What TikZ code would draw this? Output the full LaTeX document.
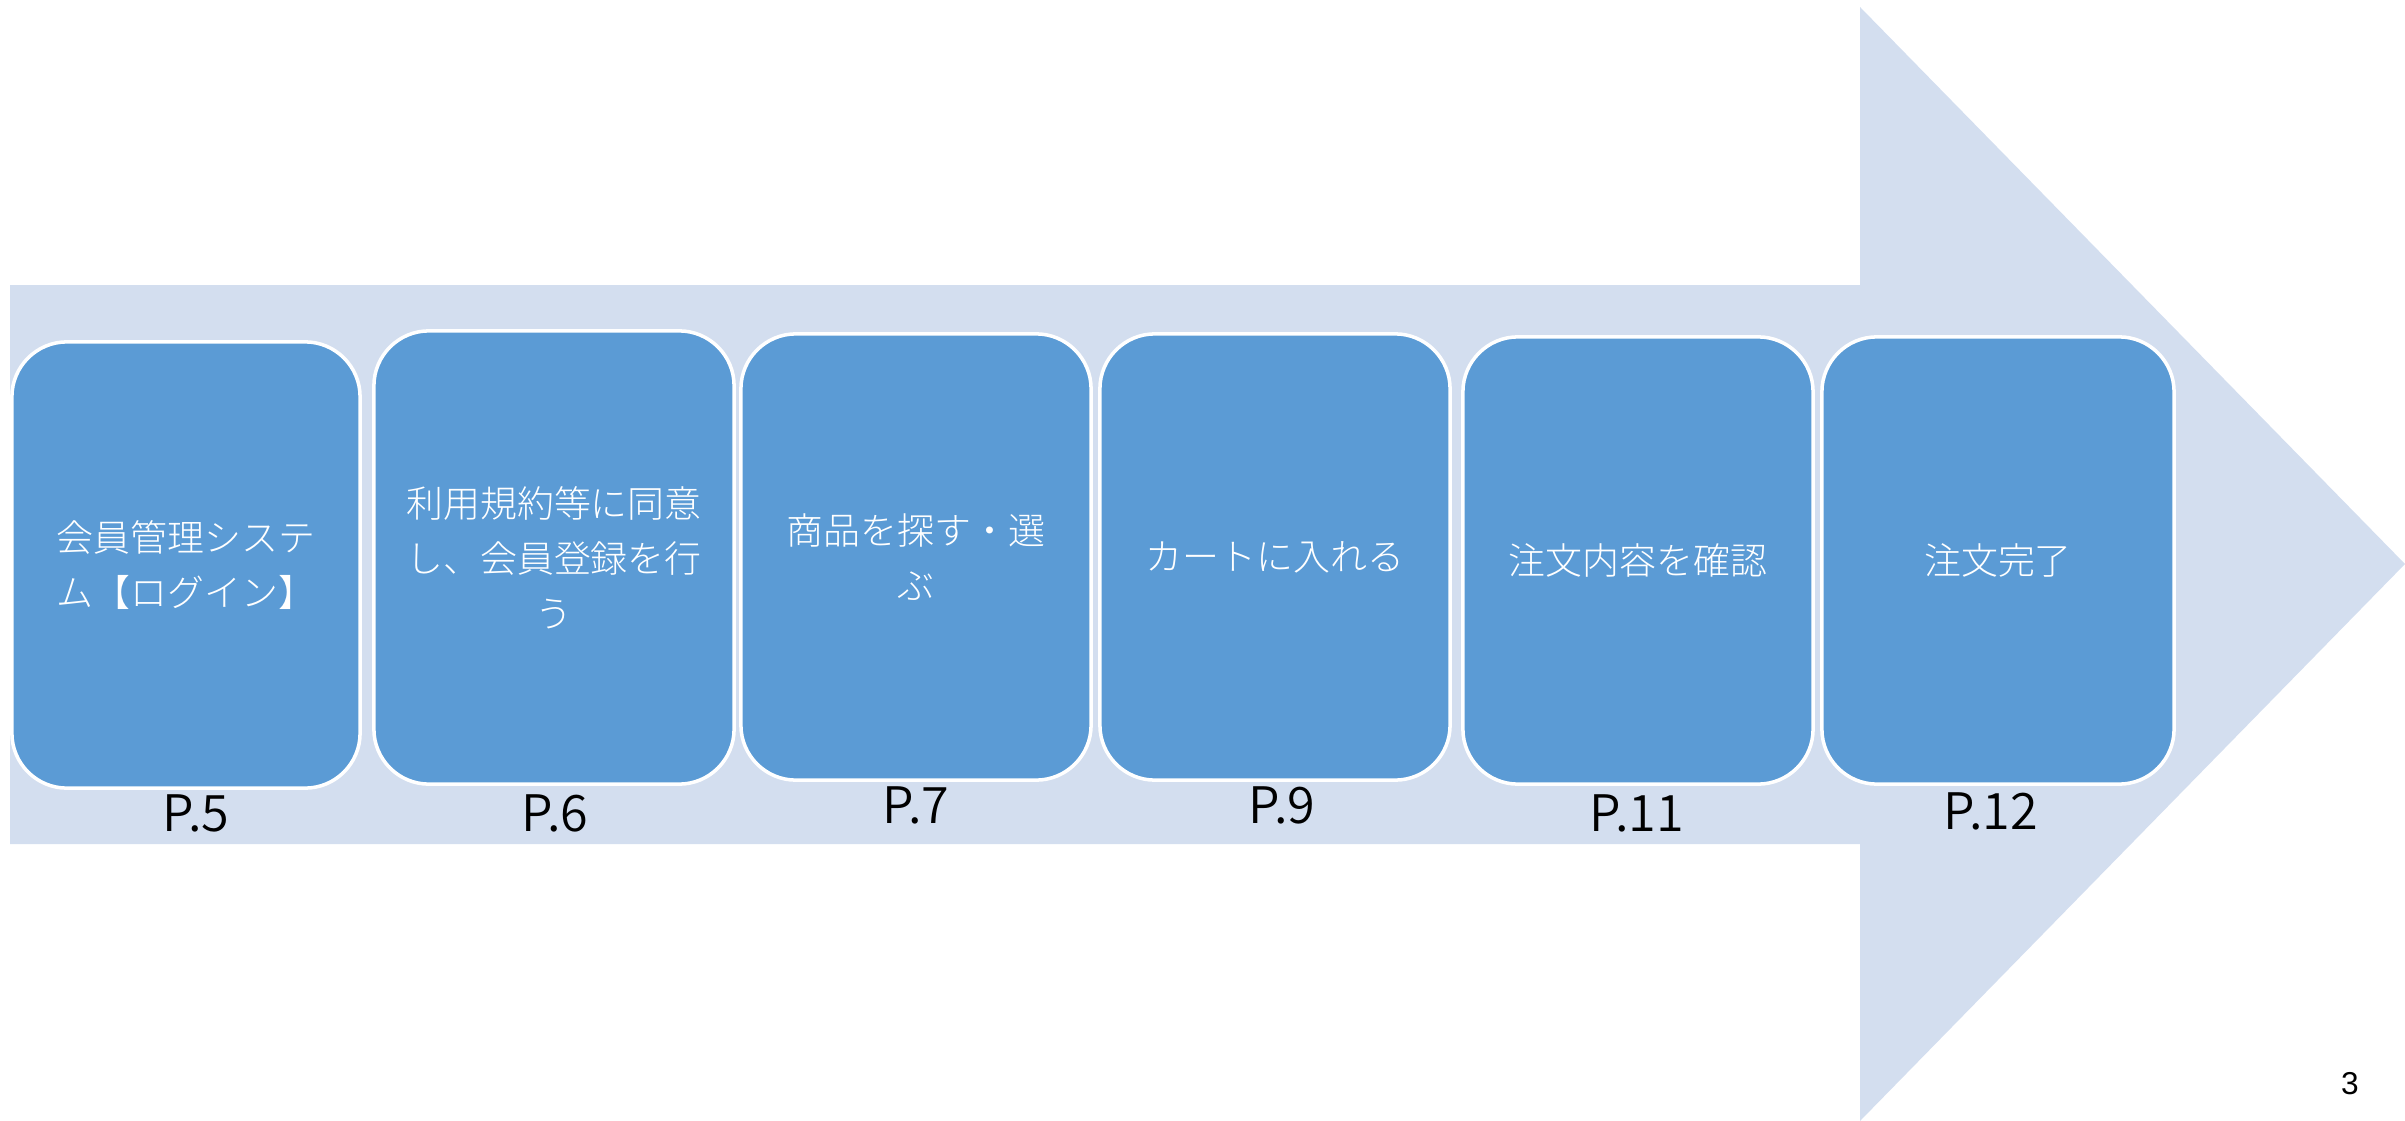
\documentclass[tikz,border=0pt]{standalone}
\usepackage{fontspec}
\setmainfont{Noto Sans CJK JP}[UprightFont=* Light]
\newfontfamily\labfont{Noto Sans CJK JP}[UprightFont=* DemiLight]
\newfontfamily\numfont{Liberation Sans}
\definecolor{arrowfill}{HTML}{D3DEEF}
\definecolor{boxfill}{HTML}{5B9BD5}
\tikzset{
  stepbox/.style={draw=white, line width=1pt, fill=boxfill, rounded corners=0.55cm,
    inner sep=0pt, text=white, align=center,
    font=\fontsize{10.5pt}{15.6pt}\selectfont},
  pagelabel/.style={inner sep=0pt, text=black, font=\labfont\fontsize{14.3pt}{16pt}\selectfont}
}
\begin{document}
\begin{tikzpicture}[x=0.01cm,y=-0.01cm]
\useasboundingbox (0,0) rectangle (2405,1121);
\fill[arrowfill] (10,285) -- (1860,285) -- (1860,7) -- (2405,564) -- (1860,1121) -- (1860,844) -- (10,844) -- cycle;
\node[stepbox, minimum width=3.48cm, minimum height=4.46cm] (b1) at (186,565) {会員管理システ\\ム【ログイン】};
\node[stepbox, minimum width=3.60cm, minimum height=4.53cm] (b2) at (554,557.5) {利用規約等に同意\\し、会員登録を行\\う};
\node[stepbox, minimum width=3.50cm, minimum height=4.46cm] (b3) at (916,557) {商品を探す・選\\ぶ};
\node[stepbox, minimum width=3.50cm, minimum height=4.46cm] (b4) at (1275,557) {カートに入れる};
\node[stepbox, minimum width=3.50cm, minimum height=4.47cm] (b5) at (1638,560.5) {注文内容を確認};
\node[stepbox, minimum width=3.52cm, minimum height=4.47cm] (b6) at (1998,560.5) {注文完了};
\node[pagelabel] (l1) at (196,813) {P.5};
\node[pagelabel] (l2) at (555,813) {P.6};
\node[pagelabel] (l3) at (916,805) {P.7};
\node[pagelabel] (l4) at (1282,805) {P.9};
\node[pagelabel] (l5) at (1637,813) {P.11};
\node[pagelabel] (l6) at (1991,811) {P.12};
\node[inner sep=0pt, font=\numfont\fontsize{9pt}{10pt}\selectfont] (pg) at (2350,1084) {3};
\end{tikzpicture}
\end{document}
